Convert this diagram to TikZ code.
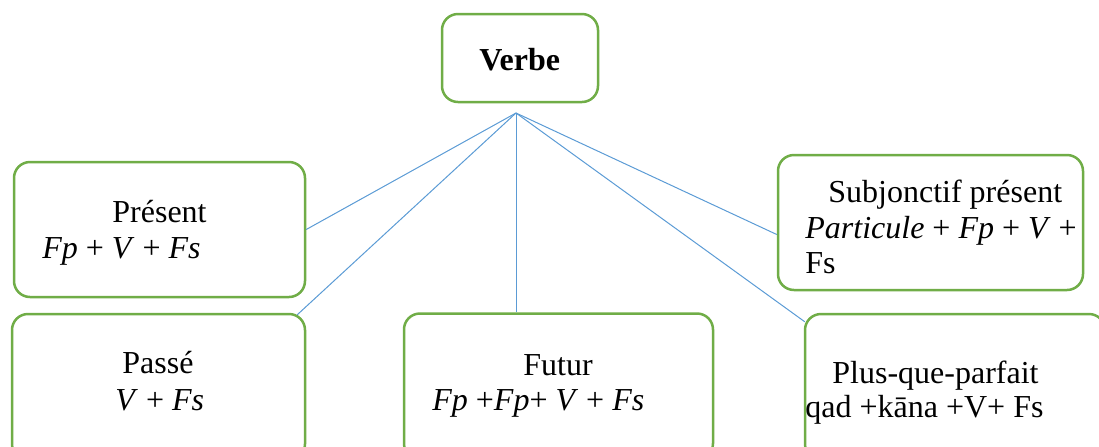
\documentclass[tikz,border=0pt]{standalone}
\usepackage{fontspec}
\setmainfont{Liberation Serif}
\usetikzlibrary{calc}
\definecolor{boxgreen}{HTML}{70AD47}
\definecolor{lineblue}{HTML}{5B9BD5}
\begin{document}
\begin{tikzpicture}[x=0.5pt,y=-0.5pt,
  box/.style={draw=boxgreen,line width=1.25pt,rounded corners=8pt,inner sep=0pt,fill=white},
  link/.style={draw=lineblue,line width=0.5pt},
  txt/.style={inner sep=0pt,anchor=base west,font=\fontsize{16}{19}\selectfont}]
\useasboundingbox (0,0) rectangle (1099,446);
\clip (0,0) rectangle (1099,446);
% boxes
\node[box,minimum width=78pt,minimum height=44pt] (verbe) at (520,58) {};
\node[box,minimum width=145.5pt,minimum height=67.5pt] (pres) at (159.5,229.5) {};
\node[box,minimum width=152.5pt,minimum height=67.5pt] (subj) at (930.5,222.5) {};
\node[box,minimum width=146.5pt,minimum height=73pt] (pass) at (158.5,387) {};
\node[box,minimum width=154.5pt,minimum height=73pt] (fut) at (558.5,386.5) {};
\node[box,minimum width=150pt,minimum height=73pt] (pqp) at (955,387) {};
% connectors
\coordinate (apex) at (516,113);
\draw[link] (apex) -- (pres.east);
\draw[link] (apex) -- ($(pass.north east)+(-9,2)$);
\draw[link] (apex) -- (apex |- fut.north);
\draw[link] (apex) -- ($(subj.west)+(0,12)$);
\draw[link] (apex) -- ($(pqp.north west)+(1,9)$);
% texts
\node[txt,font=\fontsize{16}{19}\selectfont\bfseries] (tverbe) at (479,70) {Verbe};
\node[txt] (tpres1) at (112,222) {Présent};
\node[txt] (tpres2) at (42,258) {\textit{Fp} + \textit{V} + \textit{Fs}};
\node[txt] (tsubj1) at (828,202) {Subjonctif présent};
\node[txt] (tsubj2) at (805,238) {\textit{Particule} + \textit{Fp} + \textit{V} +};
\node[txt] (tsubj3) at (805,273) {Fs};
\node[txt] (tpass1) at (122,373) {Passé};
\node[txt] (tpass2) at (115,410) {\textit{V} + \textit{Fs}};
\node[txt] (tfut1) at (523,375) {Futur};
\node[txt] (tfut2) at (432,410) {\textit{Fp} +\textit{Fp}+ \textit{V} + \textit{Fs}};
\node[txt] (tpqp1) at (832,383) {Plus-que-parfait};
\node[txt] (tpqp2) at (805,417) {qad +kāna +V+ Fs};
\end{tikzpicture}
\end{document}
